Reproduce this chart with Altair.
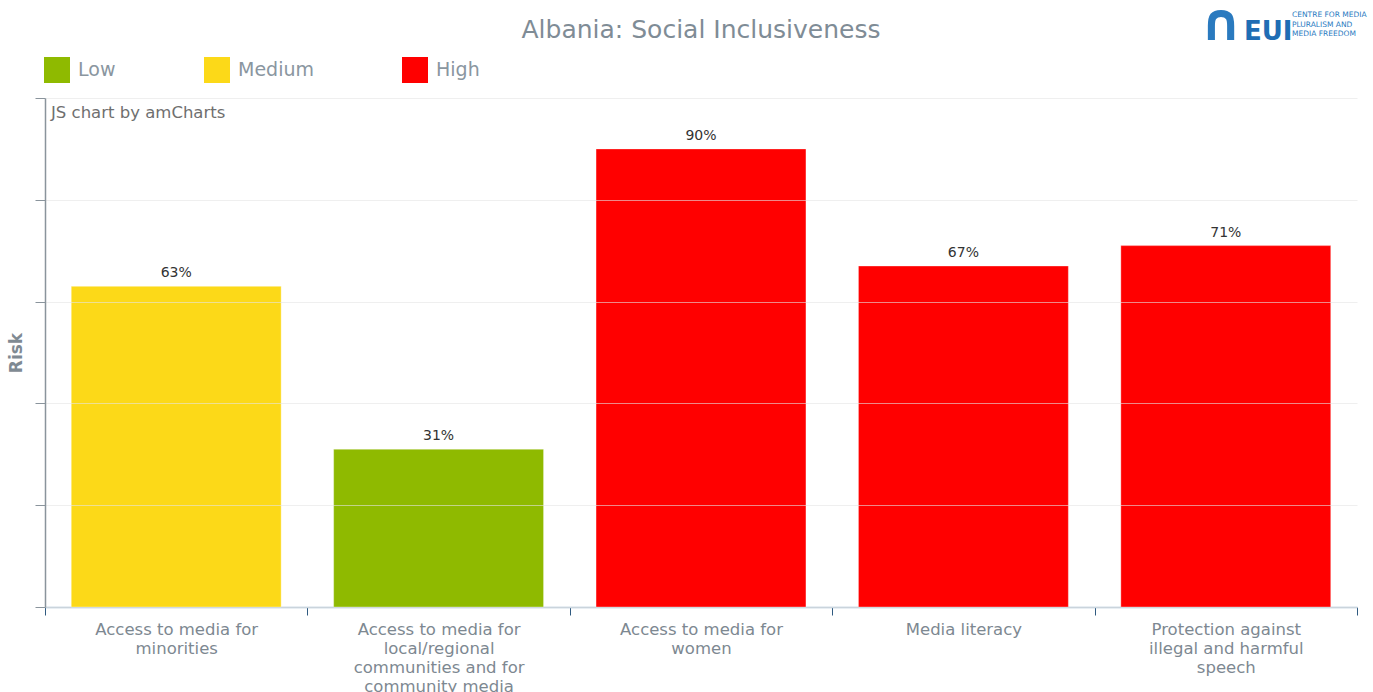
import altair as alt
import pandas as pd

categories = [
    "Access to media for\nminorities",
    "Access to media for\nlocal/regional\ncommunities and for\ncommunity media",
    "Access to media for\nwomen",
    "Media literacy",
    "Protection against\nillegal and harmful\nspeech",
]
values = [63, 31, 90, 67, 71]
risk = ["Medium", "Low", "High", "High", "High"]
risk_levels = ["Low", "Medium", "High"]
risk_colors = ["#8fba00", "#fcd918", "#ff0000"]
title_text = "Albania: Social Inclusiveness"
watermark = "JS chart by amCharts"
logo_small = ["CENTRE FOR MEDIA", "PLURALISM AND", "MEDIA FREEDOM"]

FONT = "DejaVu Sans"

df = pd.DataFrame({
    "cat": categories,
    "value": values,
    "risk": risk,
    "label": [f"{v}%" for v in values],
})

x = alt.X(
    "cat:N", sort=categories, title=None,
    scale=alt.Scale(paddingInner=0, paddingOuter=0),
    axis=alt.Axis(
        labelAngle=0,
        labelExpr="isValid(datum.value) ? split(datum.value, '\\n') : ''",
        labelFont=FONT, labelFontSize=16.5, labelColor="#7d8891",
        labelLineHeight=19, labelPadding=6, labelBaseline="top",
        tickBand="extent", tickSize=8, tickColor="#2f5a80",
        domainColor="#a3bccf", domainWidth=1.5, grid=False,
        labelLimit=300,
    ),
)
y = alt.Y(
    "value:Q", title="Risk",
    scale=alt.Scale(domain=[0, 100], nice=False),
    axis=alt.Axis(
        labels=False, values=[0, 20, 40, 60, 80, 100], tickSize=10,
        tickColor="#8a949c", domainColor="#8a949c", domainWidth=1.5,
        gridColor="#e4e4e4", gridOpacity=0.6, gridWidth=1, zindex=1,
        titleFont=FONT, titleFontSize=17, titleFontWeight="bold",
        titleColor="#7f8a93", titlePadding=9,
    ),
)

bars = alt.Chart(df).mark_bar(
    width=alt.RelativeBandSize(0.8), stroke="white", strokeOpacity=0.35,
    strokeWidth=1,
).encode(
    x=x, y=y,
    color=alt.Color(
        "risk:N",
        scale=alt.Scale(domain=risk_levels, range=risk_colors),
        legend=alt.Legend(
            title=None, orient="none", legendX=-1, legendY=-41,
            direction="horizontal", symbolType="square", symbolSize=676,
            symbolStrokeWidth=0, symbolOpacity=1,
            labelFont=FONT, labelFontSize=19, labelColor="#8a96a0",
            labelOffset=8, columnPadding=88,
        ),
    ),
)

labels = alt.Chart(df).mark_text(
    baseline="bottom", dy=-6, font=FONT, fontSize=14, color="#333333"
).encode(x=alt.X("cat:N", sort=categories), y="value:Q", text="label:N")


def text_layer(t, px, py, **kw):
    return alt.Chart(pd.DataFrame({"t": [t]})).mark_text(**kw).encode(
        text="t:N", x=alt.value(px), y=alt.value(py)
    )


title = text_layer(title_text, 656, -68, align="center", baseline="middle",
                   font=FONT, fontSize=25, color="#7f8c96")
wm = text_layer(watermark, 6, 15, align="left", baseline="middle", font=FONT,
                fontSize=16.5, color="#6f6f6f")
logo_arch = text_layer("∩", 1176, -58, align="center", baseline="alphabetic",
                       font=FONT, fontSize=52, fontWeight="bold", color="#2a7abf")
logo_eui = text_layer("EUI", 1199, -58, align="left", baseline="alphabetic",
                      font=FONT, fontSize=26, fontWeight="bold", color="#1f6db4")
logo_lines = [
    text_layer(t, 1247, -83 + 9.5 * i, align="left", baseline="middle",
               font=FONT, fontSize=7.5, color="#2a7abf")
    for i, t in enumerate(logo_small)
]

chart = alt.layer(bars, labels, title, wm, logo_arch, logo_eui, *logo_lines).properties(
    width=1312, height=509,
    autosize=alt.AutoSizeParams(type="none"),
    padding={"left": 45, "top": 98, "right": 16, "bottom": 85},
).configure_view(stroke=None)

chart.save("out.html", embed_options={"renderer": "svg", "actions": False})
